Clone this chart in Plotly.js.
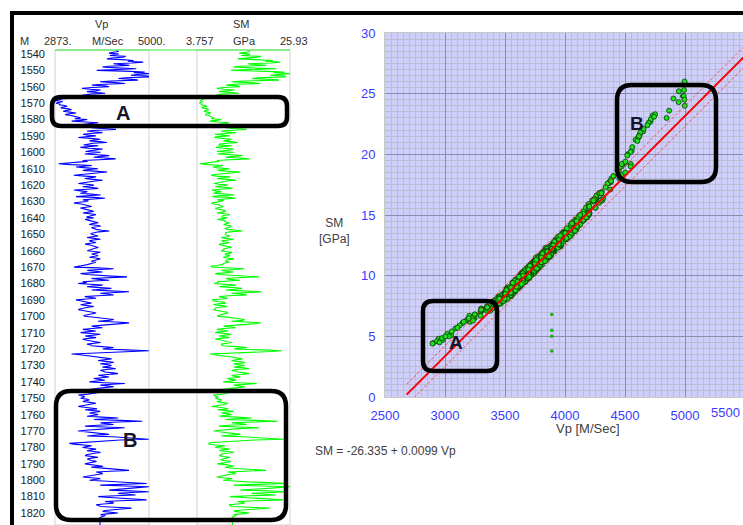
<!DOCTYPE html>
<html>
<head>
<meta charset="utf-8">
<script src="https://cdn.plot.ly/plotly-3.0.1.min.js"></script>
<style>html,body{margin:0;padding:0;background:#fff;}#chart{width:743px;height:525px;}</style>
</head>
<body>
<div id="chart"></div>
<script>
// ---------------- DATA ----------------
const depthStart = 1538;           // m, first sample
const depthStep = 0.5;             // m, sampling interval
const vpScaleMin = 2873, vpScaleMax = 5000;    // Vp track scale (M/Sec)
const smScaleMin = 3.757, smScaleMax = 25.93;  // SM track scale (GPa)
const depthTicks = [1540,1550,1560,1570,1580,1590,1600,1610,1620,1630,1640,1650,1660,1670,1680,1690,1700,1710,1720,1730,1740,1750,1760,1770,1780,1790,1800,1810,1820];

const vp = [
 4262,4311,4187,4095,
 4318,4226,4113,4472,4405,4160,4047,4381,4652,4522,
 4868,4613,4194,4377,4556,4088,3943,4261,4712,4290,
 3817,4436,4904,4655,4996,4730,4588,4983,4990,4472,
 4307,4622,4751,4134,3892,4238,4455,3986,3708,4012,
 4097,3724,3486,3662,3903,3789,3594,3821,4006,3672,
 3548,3415,3697,3352,3203,3018,2947,2901,3052,2934,
 2896,2982,2975,3088,3146,3034,3003,3181,3247,3122,
 3056,3208,3349,3187,3104,3236,3296,3391,3452,3318,
 3603,3472,3249,3568,3852,3661,3496,3733,3907,3812,
 3694,3963,4254,3837,3598,3746,3947,3681,3505,3627,
 3796,3551,3402,3678,3898,3757,3652,3884,4048,3726,
 3603,3518,3853,3702,3447,3639,3954,3801,3695,3566,
 3903,3688,3547,3842,4102,3913,3748,4016,4247,3874,
 3497,3608,3304,3156,2954,3233,3706,3528,3351,3584,
 3846,3637,3503,3772,4053,3868,3597,3426,3297,3552,
 3804,3671,3546,3733,3952,3789,3648,3512,3403,3587,
 3752,3641,3498,3722,3851,3604,3302,3448,3604,3537,
 3447,3693,3904,3581,3348,3762,4003,3742,3502,3628,
 3597,3419,3304,3466,3552,3618,3703,3574,3446,3531,
 3602,3683,3748,3627,3503,3661,3797,3712,3652,3584,
 3747,3626,3553,3641,3698,3777,3852,3724,3646,3808,
 3903,3776,3697,3752,3803,3928,4104,3861,3747,3682,
 3703,3792,3848,3713,3597,3756,3902,3741,3648,3719,
 3802,3684,3553,3667,3748,3806,3853,3779,3697,3642,
 3603,3758,3898,3807,3702,3768,3847,3736,3652,3789,
 3897,3824,3753,3697,3798,3741,3703,3602,3497,3376,
 3302,3847,4198,3902,3603,3779,3948,3652,3453,3608,
 3797,4153,4502,4018,3698,3876,4097,3744,3503,3587,
 3398,3664,3952,3736,3597,3884,4148,3922,3703,4126,
 4548,4243,3897,4071,4203,3832,3547,3689,3802,3594,
 3348,3447,3553,3662,3697,3539,3453,3612,3752,3626,
 3497,3433,3402,3548,3648,3727,3803,3684,3597,3521,
 3553,3711,3898,4047,4203,4086,3847,4254,4548,4362,
 4097,3882,3703,3826,3948,3717,3503,3648,3797,3602,
 3452,3683,3898,3744,3553,3671,3802,3626,3497,3574,
 3652,3788,3903,3739,3597,3684,3703,3937,4197,4053,
 3952,4483,4998,4612,4103,3714,3248,3443,3603,3778,
 3948,4062,4153,3986,3847,4021,4203,4117,3897,4048,
 4152,4083,3948,4127,4247,4036,3903,3972,4003,4188,
 4297,4064,3853,3966,4097,3921,3748,3884,4003,3802,
 3652,3983,4453,4174,3898,4086,4203,3987,3797,3672,
 3553,3746,3948,3863,3753,3617,3402,3476,3548,3512,
 3452,3589,3648,3562,3503,3667,3798,3706,3603,3487,
 3397,3541,3702,3826,3553,3694,3897,3771,3653,3748,
 3848,3716,3597,3943,4302,4011,3752,4368,4847,4285,
 3903,4047,4197,3842,3553,3976,4448,4083,3703,3566,
 3398,3612,3803,3942,4097,3818,3603,4183,4503,4716,
 4995,4354,4003,3687,3352,3198,3297,3521,3703,3586,
 3497,3648,3803,3692,3597,3751,3902,3766,3647,3583,
 3553,3712,3847,3693,3603,3648,3697,3812,3752,3637,
 3548,3707,3853,3962,3697,3873,4103,4287,4547,4122,
 3803,3912,3952,3834,3697,3566,3503,3702,3898,3761,
 3652,3967,4203,4628,4948,4386,3897,4473,4996,4742,
 4503,4284,4097,4561,4992,4617,4303,4519,4697,4246,
 3853,4112,4403,4687,4947,4338,4003,4176,4197,3962,
 3803,3868,3897,4236,4603,4384,4097,4008,3952,4127,
 4297,4058,3903,4013,3947,3902,3882,3888,3891,3890,
 3889,3891,3890,3890,3891,3890,3890
];

const sm = [
 16.4,16.2,15.5,13.8,
 16.4,16.2,14.3,19.0,18.2,14.6,13.5,17.7,21.9,20.0,
 23.6,21.4,15.9,17.1,20.3,13.8,12.4,16.6,22.7,16.2,
 11.9,18.7,24.6,22.1,25.9,23.2,21.2,24.8,24.8,18.3,
 16.9,21.6,23.3,14.5,12.0,16.1,18.9,12.8,10.7,13.6,
 14.0,10.1,8.5,10.3,12.7,10.9,9.0,12.0,13.7,9.6,
 8.5,7.9,10.0,7.4,6.7,5.2,4.8,4.45,5.1,4.6,
 4.4,4.7,4.85,5.65,6.1,5.0,5.0,6.3,6.5,5.9,
 5.4,6.2,7.1,6.4,5.7,6.6,7.0,7.3,7.7,7.2,
 9.6,8.4,6.8,8.7,11.4,10.4,8.6,10.2,12.0,11.9,
 10.6,12.4,15.6,12.3,9.5,10.25,13.1,10.4,8.0,10.0,
 11.6,8.3,7.9,9.8,12.0,11.5,10.1,11.7,13.5,11.0,
 9.1,9.0,12.1,9.8,8.3,10.0,12.5,11.7,10.6,8.5,
 12.6,9.8,8.6,12.2,14.6,12.0,10.5,13.9,16.3,11.7,
 8.5,9.0,7.2,6.2,4.5,6.3,10.0,9.0,7.5,8.7,
 11.5,10.2,8.7,10.6,14.1,12.4,9.0,8.0,7.1,8.4,
 11.7,9.5,8.5,11.1,13.2,10.8,9.5,8.9,7.8,8.9,
 11.1,9.3,8.1,11.0,12.2,9.0,7.3,8.2,9.6,8.3,
 7.7,10.7,12.6,8.8,7.4,11.3,13.0,10.3,8.6,10.1,
 9.0,8.0,7.2,7.7,9.1,9.1,10.0,9.5,8.2,8.3,
 9.5,10.5,10.5,9.2,8.5,10.4,11.6,10.0,9.6,9.6,
 11.0,9.1,8.6,10.2,10.6,10.6,11.5,11.0,10.1,10.9,
 12.0,11.6,10.5,10.4,11.1,13.0,14.6,11.5,10.6,10.6,
 10.5,10.8,11.6,10.9,9.5,10.5,12.5,11.2,9.6,10.1,
 11.5,10.6,9.0,9.5,10.6,11.8,12.0,10.7,10.1,10.2,
 9.5,10.5,12.1,11.8,10.5,10.5,11.6,11.1,10.0,10.8,
 12.6,11.2,10.6,10.7,11.5,10.3,10.1,9.7,8.5,7.1,
 7.2,12.2,15.0,12.7,9.6,10.7,12.5,10.3,8.1,9.1,
 11.6,15.3,18.5,13.2,10.6,11.6,14.0,11.2,8.6,8.9,
 7.8,10.3,13.1,10.2,9.1,12.5,14.5,12.9,10.6,14.2,
 19.2,16.3,12.0,14.4,15.7,11.2,9.0,9.8,11.1,9.7,
 7.4,7.7,8.6,10.4,10.5,8.4,7.7,9.8,11.0,9.1,
 8.1,8.1,7.7,8.4,10.0,11.0,11.1,9.7,9.5,8.9,
 8.6,10.9,12.5,13.3,15.1,14.6,12.0,15.6,19.0,17.6,
 14.5,11.7,10.1,12.0,13.0,10.1,8.5,10.2,11.1,8.9,
 8.1,10.5,12.0,10.4,9.0,10.5,11.5,9.2,8.1,9.5,
 10.0,10.8,12.1,11.1,9.5,9.7,10.1,13.1,15.7,13.5,
 12.6,19.2,24.0,21.4,14.6,10.1,6.8,8.0,9.1,11.5,
 13.0,13.5,14.6,13.6,12.0,13.1,15.2,14.9,12.5,13.4,
 15.1,13.7,12.6,15.0,16.2,13.2,12.1,13.4,13.5,14.9,
 16.2,14.4,12.0,12.5,14.1,12.9,11.0,11.8,13.1,11.7,
 10.0,13.5,18.0,15.6,12.5,13.8,15.2,13.5,11.5,9.6,
 8.6,11.2,13.0,11.5,10.6,9.9,7.7,7.9,8.6,8.8,
 8.1,8.9,9.6,9.4,8.5,9.5,11.1,10.8,9.5,7.9,
 7.3,9.1,10.5,11.2,8.6,10.7,12.5,10.6,9.6,11.2,
 12.0,10.1,9.1,13.2,16.8,13.0,10.6,17.7,23.0,16.8,
 12.1,14.2,15.6,11.3,9.0,13.4,18.6,13.7,10.1,9.4,
 7.7,9.1,11.5,12.3,14.1,11.9,9.5,14.8,19.3,22.9,
 24.5,17.6,13.1,10.6,7.4,6.5,6.7,8.1,10.5,8.8,
 8.1,10.2,11.5,9.8,9.1,11.2,12.5,10.6,9.6,9.6,
 9.0,10.0,11.6,10.7,9.5,9.4,10.1,11.8,11.0,9.3,
 8.6,10.8,12.0,12.5,10.5,11.6,14.0,16.8,20.2,14.9,
 11.1,12.8,13.0,11.2,10.1,9.4,8.5,9.9,12.1,11.3,
 10.0,12.6,15.7,21.8,25.2,18.0,12.5,19.2,26.0,23.1,
 19.4,16.0,14.1,20.6,25.3,21.5,16.8,19.9,22.6,16.3,
 11.6,14.8,18.2,22.4,24.3,17.3,13.5,14.8,15.1,13.3,
 11.5,11.6,12.1,16.2,21.1,17.8,14.5,13.0,12.6,15.0,
 16.2,14.3,12.5,13.1,12.6,12.2,12.1,12.2,12.2,12.2,
 12.2,12.2,12.2,12.2,12.2,12.2,12.2
];

// isolated points in the cross-plot
const outlierVp = [3890, 3890, 3890, 3890];
const outlierSM = [6.8, 5.5, 5.0, 3.8];

// regression: SM = a + b*Vp, with band
const fitIntercept = -26.335;
const fitSlope = 0.0099;
const fitBand = 0.85;
const fitVpRange = [2680, 5600];

const scatterXTicks = [2500,3000,3500,4000,4500,5000,5500];
const scatterYTicks = [0,5,10,15,20,25,30];

// ---------------- BUILD ----------------
const depth = vp.map((_, i) => depthStart + i * depthStep);
const fitSM = fitVpRange.map(v => fitIntercept + fitSlope * v);
const fitUp = fitSM.map(s => s + fitBand);
const fitLo = fitSM.map(s => s - fitBand);

const W = 743, H = 525;
const px = x => x / W;
const py = y => 1 - y / H;

function rr(x0, y0, x1, y1, r) {
  const X = px, Y = py;
  return `M ${X(x0+r)} ${Y(y0)} L ${X(x1-r)} ${Y(y0)} Q ${X(x1)} ${Y(y0)} ${X(x1)} ${Y(y0+r)} ` +
         `L ${X(x1)} ${Y(y1-r)} Q ${X(x1)} ${Y(y1)} ${X(x1-r)} ${Y(y1)} ` +
         `L ${X(x0+r)} ${Y(y1)} Q ${X(x0)} ${Y(y1)} ${X(x0)} ${Y(y1-r)} ` +
         `L ${X(x0)} ${Y(y0+r)} Q ${X(x0)} ${Y(y0)} ${X(x0+r)} ${Y(y0)} Z`;
}

const traces = [
  {x: vp, y: depth, xaxis: 'x', yaxis: 'y', type: 'scatter', mode: 'lines',
   line: {color: '#0000ff', width: 1.1}},
  {x: sm, y: depth, xaxis: 'x2', yaxis: 'y', type: 'scatter', mode: 'lines',
   line: {color: '#00ff00', width: 1.1}},
  {x: vp, y: sm, xaxis: 'x3', yaxis: 'y3', type: 'scatter', mode: 'markers',
   marker: {color: '#1ee01e', size: 5, line: {color: '#053a05', width: 0.8}}},
  {x: outlierVp, y: outlierSM, xaxis: 'x3', yaxis: 'y3', type: 'scatter', mode: 'markers',
   marker: {color: '#10b010', size: 3.5}},
  {x: fitVpRange, y: fitUp, xaxis: 'x3', yaxis: 'y3', type: 'scatter', mode: 'lines',
   line: {color: 'rgba(255,40,40,0.75)', width: 1, dash: '3px,2px'}},
  {x: fitVpRange, y: fitLo, xaxis: 'x3', yaxis: 'y3', type: 'scatter', mode: 'lines',
   line: {color: 'rgba(255,40,40,0.75)', width: 1, dash: '3px,2px'}},
  {x: fitVpRange, y: fitSM, xaxis: 'x3', yaxis: 'y3', type: 'scatter', mode: 'lines',
   line: {color: '#ff0000', width: 2}}
];

const narrow = 'Liberation Sans Narrow, Arial Narrow, Liberation Sans, Arial, sans-serif';
const blueTick = {family: narrow, size: 13, color: '#3a3aff'};

const shapes = [
  {type: 'rect', xref: 'x3 domain', yref: 'y3 domain', x0: 0, x1: 1, y0: 0, y1: 1,
   fillcolor: '#cfcffb', line: {width: 0}, layer: 'below'},
  {type: 'rect', xref: 'x domain', yref: 'paper', x0: 0, x1: 1, y0: 0, y1: py(50),
   line: {color: '#d2d2d2', width: 1}, layer: 'below'},
  {type: 'rect', xref: 'x2 domain', yref: 'paper', x0: 0, x1: 1, y0: 0, y1: py(50),
   line: {color: '#d2d2d2', width: 1}, layer: 'below'},
  {type: 'line', xref: 'paper', yref: 'paper', x0: px(55), x1: px(290), y0: py(50), y1: py(50),
   line: {color: '#33ee33', width: 1.2}},
  {type: 'line', xref: 'paper', yref: 'paper', x0: px(10), x1: 1.01, y0: py(13), y1: py(13),
   line: {color: '#000', width: 4}},
  {type: 'line', xref: 'paper', yref: 'paper', x0: px(12), x1: px(12), y0: py(11), y1: -0.01,
   line: {color: '#000', width: 4}},
  {type: 'path', xref: 'paper', yref: 'paper', path: rr(52, 97, 287, 126, 9), line: {color: '#000', width: 4.5}},
  {type: 'path', xref: 'paper', yref: 'paper', path: rr(56, 391, 286, 520, 15), line: {color: '#000', width: 4.5}},
  {type: 'path', xref: 'paper', yref: 'paper', path: rr(423, 301, 497, 371, 10), line: {color: '#000', width: 4.5}},
  {type: 'path', xref: 'paper', yref: 'paper', path: rr(617, 85, 716, 182, 15), line: {color: '#000', width: 4.5}}
];

const hdr = (t, x, y, anchor) => ({text: t, x: px(x), y: py(y), xref: 'paper', yref: 'paper',
  showarrow: false, xanchor: anchor || 'center', yanchor: 'middle',
  font: {family: 'Liberation Sans, Arial, sans-serif', size: 11, color: '#303030'}});
const letter = (t, x, y, s) => ({text: '<b>' + t + '</b>', x: px(x), y: py(y), xref: 'paper', yref: 'paper',
  showarrow: false, xanchor: 'center', yanchor: 'middle',
  font: {family: 'Liberation Sans, Arial, sans-serif', size: s, color: '#14142a'}});

const annotations = [
  hdr('Vp', 101, 24), hdr('SM', 241, 24),
  hdr('M', 18, 41, 'left'), hdr(vpScaleMin + '.', 58, 41), hdr('M/Sec', 108, 41),
  hdr(vpScaleMax + '.', 152, 41), hdr(String(smScaleMin), 200, 41), hdr('GPa', 244, 41),
  hdr(String(smScaleMax), 294, 41),
  letter('A', 123, 113, 20), letter('B', 130, 440, 20),
  letter('A', 456, 342, 19), letter('B', 637, 123, 19),
  {text: 'SM<br>[GPa]', x: px(334), y: py(231), xref: 'paper', yref: 'paper', showarrow: false,
   xanchor: 'center', yanchor: 'middle', font: {family: narrow, size: 12, color: '#404040'}},
  {text: 'Vp [M/Sec]', x: px(588), y: py(428), xref: 'paper', yref: 'paper', showarrow: false,
   xanchor: 'center', yanchor: 'middle', font: {family: narrow, size: 13, color: '#404040'}},
  {text: 'SM = ' + fitIntercept + ' + ' + fitSlope + ' Vp', x: px(313), y: py(451), xref: 'paper', yref: 'paper',
   showarrow: false, xanchor: 'left', yanchor: 'middle', font: {family: narrow, size: 12, color: '#404040'}},
  {text: String(scatterXTicks[scatterXTicks.length - 1]), x: px(742), y: py(412), xref: 'paper', yref: 'paper',
   showarrow: false, xanchor: 'right', yanchor: 'middle', font: blueTick}
];

const layout = {
  width: W, height: H,
  margin: {l: 0, r: 0, t: 0, b: 0, pad: 0},
  paper_bgcolor: '#ffffff', plot_bgcolor: 'rgba(0,0,0,0)',
  showlegend: false,
  font: {family: 'Liberation Sans, Arial, sans-serif', size: 11, color: '#202020'},
  xaxis: {domain: [px(55), px(149)], range: [vpScaleMin, vpScaleMax], anchor: 'y', visible: false, fixedrange: true},
  xaxis2: {domain: [px(197), px(290)], range: [smScaleMin, smScaleMax], anchor: 'y', visible: false, fixedrange: true},
  yaxis: {domain: [0, py(50)], range: [1827.3, 1537.6], anchor: 'free', position: px(45),
          tickvals: depthTicks, ticks: '', showgrid: false, zeroline: false, showline: false,
          tickfont: {family: 'Liberation Sans, Arial, sans-serif', size: 11, color: '#202020'}},
  xaxis3: {domain: [px(385), 1], range: [2500, 2500 + (W - 385) * 500 / 60], anchor: 'y3',
           tickvals: scatterXTicks, ticks: 'outside', ticklen: 6, tickcolor: 'rgba(0,0,0,0)',
           tickfont: blueTick, showgrid: true, gridcolor: '#8c8cab', gridwidth: 1,
           minor: {dtick: 50, tick0: 2500, showgrid: true, gridcolor: '#bcbccc', gridwidth: 1},
           zeroline: false, showline: true, linecolor: '#c8c8c8', mirror: true},
  yaxis3: {domain: [py(397), py(33)], range: [0, 30], anchor: 'x3',
           tickvals: scatterYTicks, ticks: 'outside', ticklen: 6, tickcolor: 'rgba(0,0,0,0)',
           tickfont: blueTick, showgrid: true, gridcolor: '#8c8cab', gridwidth: 1,
           minor: {dtick: 0.5, tick0: 0, showgrid: true, gridcolor: '#bcbccc', gridwidth: 1},
           zeroline: false, showline: true, linecolor: '#c8c8c8', mirror: true},
  shapes: shapes,
  annotations: annotations
};

Plotly.newPlot('chart', traces, layout, {staticPlot: true, displayModeBar: false});
</script>
</body>
</html>
